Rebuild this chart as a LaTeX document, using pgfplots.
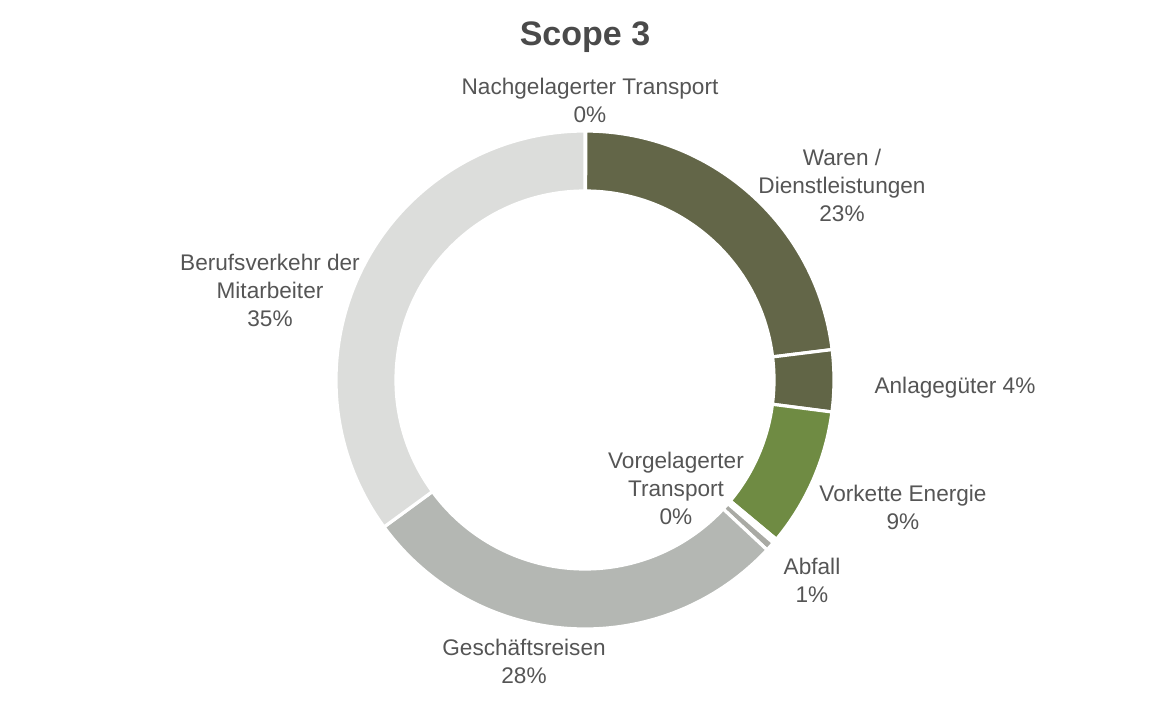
\documentclass[border=0pt]{standalone}
\usepackage{pgfplots}
\pgfplotsset{compat=1.18}
\usepackage{pgfplotstable}
\usepackage{fontspec}
\setmainfont{Liberation Sans}
\definecolor{cWaren}{HTML}{636648}
\definecolor{cAnlage}{HTML}{616546}
\definecolor{cVorkette}{HTML}{6F8B43}
\definecolor{cAbfall}{HTML}{A9AAA4}
\definecolor{cVorgel}{HTML}{D0D0C8}
\definecolor{cGesch}{HTML}{B4B7B3}
\definecolor{cBeruf}{HTML}{DCDDDB}
\definecolor{cNach}{HTML}{D8D8D6}
\definecolor{txt}{HTML}{555555}
\definecolor{ttl}{HTML}{4A4A4A}
% share in percent, clockwise from the top
\pgfplotstableread{
name        value  color
Nachgelagert 0.05  cNach
Waren       23.0   cWaren
Anlage       4.0   cAnlage
Vorkette     9.0   cVorkette
Vorgelagert  0.3   white
Abfall       0.6   cAbfall
Gesch       28.0   cGesch
Beruf       35.05  cBeruf
}\datatable
\begin{document}
\begin{tikzpicture}
\begin{axis}[
  hide axis, x=0.5pt, y=0.5pt, scale only axis,
  xmin=0, xmax=1161, ymin=0, ymax=702,
  clip=false,
]
\path (axis cs:0,0) rectangle (axis cs:1161,702);
\coordinate (C) at (axis cs:585,322);
\pgfplotstablegetrowsof{\datatable}
\pgfmathtruncatemacro{\nrows}{\pgfplotsretval-1}
\gdef\cum{0}
\pgfplotsforeachungrouped \i in {0,...,\nrows}{
  \pgfplotstablegetelem{\i}{value}\of{\datatable}
  \let\val\pgfplotsretval
  \pgfplotstablegetelem{\i}{color}\of{\datatable}
  \let\col\pgfplotsretval
  \pgfmathsetmacro{\aA}{90-3.6*\cum}
  \pgfmathsetmacro{\aB}{90-3.6*(\cum+\val)}
  \edef\temp{\noexpand\fill[\col, draw=white, line width=1.6pt, line join=miter]
    ([shift={(\aA:124.5pt)}]C) arc[start angle=\aA, end angle=\aB, radius=124.5pt]
    -- ([shift={(\aB:94.5pt)}]C) arc[start angle=\aB, end angle=\aA, radius=94.5pt] -- cycle;}
  \temp
  \pgfmathsetmacro{\newcum}{\cum+\val}
  \xdef\cum{\newcum}
}
\tikzset{lab/.style={font=\fontsize{11.3}{14}\selectfont, text=txt, align=center, inner sep=0pt}}
\node[font=\fontsize{17}{20}\selectfont\bfseries, text=ttl, inner sep=0pt] at (axis cs:585,665) {Scope 3};
\node[lab] at (axis cs:590,602) {Nachgelagerter Transport\\0\%};
\node[lab] at (axis cs:842,517) {Waren /\\Dienstleistungen\\23\%};
\node[lab] at (axis cs:270,412) {Berufsverkehr der\\Mitarbeiter\\35\%};
\node[lab] at (axis cs:955,314) {Anlagegüter 4\%};
\node[lab] at (axis cs:676,214) {Vorgelagerter\\Transport\\0\%};
\node[lab] at (axis cs:903,195) {Vorkette Energie\\9\%};
\node[lab] at (axis cs:812,122) {Abfall\\1\%};
\node[lab] at (axis cs:524,41) {Geschäftsreisen\\28\%};
\end{axis}
\end{tikzpicture}
\end{document}
